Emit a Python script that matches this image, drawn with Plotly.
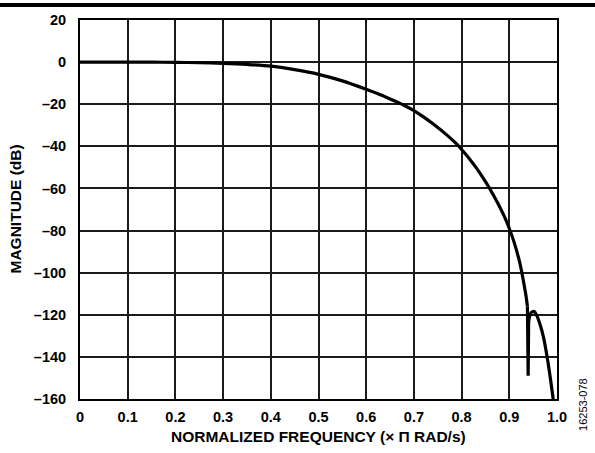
import plotly.graph_objects as go

# Normalized frequency (x pi rad/s) and magnitude (dB)
# Main passband / transition roll-off
freq_main = [0, 0.05, 0.1, 0.15, 0.2, 0.25, 0.3, 0.35, 0.4, 0.45, 0.5, 0.55, 0.6,
             0.63, 0.66, 0.68, 0.7, 0.72, 0.74, 0.77, 0.79, 0.8, 0.815, 0.83, 0.845,
             0.86, 0.877, 0.89, 0.9, 0.91, 0.92, 0.925, 0.93, 0.935, 0.938]
mag_main = [0, 0, 0, -0.05, -0.1, -0.3, -0.6, -1.1, -1.9, -3.6, -5.8, -8.9, -12.9,
            -15.5, -18.5, -20.6, -23, -26, -29.3, -34.8, -39, -41.5, -45.5, -50, -55,
            -60.5, -67.5, -73.5, -79, -85.5, -93.5, -98.5, -104.5, -111, -116]
# Notch (zero) spike
freq_notch = [0.938, 0.9395, 0.9405, 0.9415]
mag_notch = [-116, -149, -124, -121.5]
# Stopband sidelobe
freq_lobe = [0.9415, 0.945, 0.948, 0.952, 0.958, 0.965, 0.972, 0.98, 0.986, 0.992]
mag_lobe = [-121.5, -119.3, -118.6, -118.4, -120.5, -125, -131, -141, -150, -160]

x_ticks = [0, 0.1, 0.2, 0.3, 0.4, 0.5, 0.6, 0.7, 0.8, 0.9, 1.0]
x_tick_text = ["0", "0.1", "0.2", "0.3", "0.4", "0.5", "0.6", "0.7", "0.8", "0.9", "1.0"]
y_ticks = [20, 0, -20, -40, -60, -80, -100, -120, -140, -160]
y_tick_text = ["20", "0", "–20", "–40", "–60", "–80", "–100", "–120", "–140", "–160"]

font_family = "Liberation Sans, Arial, sans-serif"
line_style = dict(color="black", width=3.2)
tick_font = dict(family=font_family, size=14.5, color="black", weight="bold")

fig = go.Figure()
fig.add_trace(go.Scatter(x=freq_main, y=mag_main, mode="lines",
                         line=dict(line_style, shape="spline", smoothing=0.8), hoverinfo="skip"))
fig.add_trace(go.Scatter(x=freq_notch, y=mag_notch, mode="lines",
                         line=line_style, hoverinfo="skip"))
fig.add_trace(go.Scatter(x=freq_lobe, y=mag_lobe, mode="lines",
                         line=dict(line_style, shape="spline", smoothing=0.8), hoverinfo="skip"))

fig.update_layout(
    width=595, height=453,
    margin=dict(l=80, r=38, t=17, b=54),
    paper_bgcolor="white", plot_bgcolor="white",
    showlegend=False,
    font=dict(family=font_family, size=14, color="black"),
    xaxis=dict(range=[0, 1], tickvals=x_ticks, ticktext=x_tick_text,
               showgrid=True, gridcolor="#1a1a1a", gridwidth=1.5,
               showline=True, mirror=True, linecolor="black", linewidth=2,
               ticks="", ticklabelstandoff=4, zeroline=False, tickfont=tick_font),
    yaxis=dict(range=[-160, 20], tickvals=y_ticks, ticktext=y_tick_text,
               showgrid=True, gridcolor="#1a1a1a", gridwidth=1.5,
               showline=True, mirror=True, linecolor="black", linewidth=2,
               ticks="", ticklabelstandoff=9, zeroline=False, tickfont=tick_font),
    shapes=[dict(type="line", xref="paper", yref="paper",
                 x0=-80 / 477, x1=515 / 477, y0=(399 - 2) / 382, y1=(399 - 2) / 382,
                 line=dict(color="black", width=4))],
    annotations=[
        dict(text="<b>NORMALIZED FREQUENCY (× Π RAD/s)</b>", xref="paper", yref="paper",
             x=0.5, y=-38 / 382, xanchor="center", yanchor="middle", showarrow=False,
             font=dict(family=font_family, size=15.5, color="black")),
        dict(text="<b>MAGNITUDE (dB)</b>", xref="paper", yref="paper",
             x=-65 / 477, y=0.5, xanchor="center", yanchor="middle", showarrow=False,
             textangle=-90, font=dict(family=font_family, size=15.5, color="black")),
        dict(text="16253-078", xref="paper", yref="paper",
             x=503 / 477, y=-6 / 382, xanchor="center", yanchor="middle", showarrow=False,
             textangle=-90, font=dict(family=font_family, size=11, color="black")),
    ],
)

fig.write_html("out.html", config={"displayModeBar": False},
               post_script="document.body.style.margin='0';")
